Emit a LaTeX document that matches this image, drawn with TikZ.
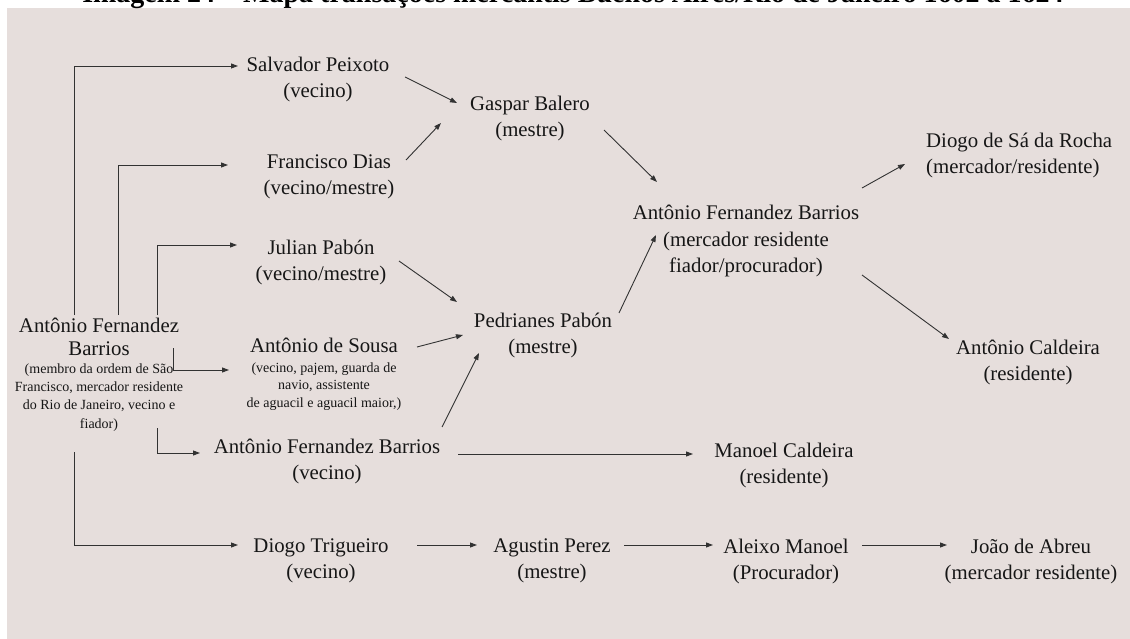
\documentclass[tikz,border=0pt]{standalone}
\usepackage{fontspec}
\setmainfont{Liberation Serif}
\usetikzlibrary{arrows.meta}
\definecolor{bg}{RGB}{230,222,220}
\definecolor{ink}{RGB}{22,22,22}
\definecolor{wire}{RGB}{50,50,50}
\newcommand\bigf{\fontsize{20.8}{26}\selectfont}
\newcommand\bigfl{\fontsize{20.8}{26.5}\selectfont}
\newcommand\smallf{\fontsize{14}{17.5}\selectfont}
\newcommand\smallfl{\fontsize{14}{18.3}\selectfont}
\begin{document}
\begin{tikzpicture}[x=1pt,y=-1pt,
  person/.style={text=ink, inner sep=0pt, align=center, font=\bigf},
  arr/.style={draw=wire, line width=0.9pt, -{Triangle[length=7pt,width=5pt]}}
]
\useasboundingbox (0,0) rectangle (1130,639);
\clip (0,0) rectangle (1130,639);
\fill[bg] (7,8) rectangle (1130,639);
\node[font=\bfseries\fontsize{28}{30}\selectfont, anchor=base, text=black, inner sep=0pt] (title) at (573,3) {Imagem 24 – Mapa transações mercantis Buenos Aires/Rio de Janeiro 1602 a 1624};

% nodes
\node[person, font=\smallfl, anchor=north] (afb1) at (99,318) {{\bigf Antônio Fernandez}\\[4.7pt]{\bigf Barrios}\\[-0.7pt](membro da ordem de São\\Francisco, mercador residente\\do Rio de Janeiro, vecino e\\fiador)};
\node[person] (sp) at (318,80) {Salvador Peixoto\\(vecino)};
\node[person] (fd) at (329,177) {Francisco Dias\\(vecino/mestre)};
\node[person] (jp) at (321,262) {Julian Pabón\\(vecino/mestre)};
\node[person, font=\smallf, anchor=north] (as) at (324,338) {{\bigf Antônio de Sousa}\\[2.2pt](vecino, pajem, guarda de\\navio, assistente\\de aguacil e aguacil maior,)};
\node[person] (afb2) at (327,461) {Antônio Fernandez Barrios\\(vecino)};
\node[person] (dt) at (321,561) {Diogo Trigueiro\\(vecino)};
\node[person] (gb) at (530,118) {Gaspar Balero\\(mestre)};
\node[person] (pp) at (543,335) {Pedrianes Pabón\\(mestre)};
\node[person, font=\bigfl] (afb3) at (746,241) {Antônio Fernandez Barrios\\(mercador residente\\fiador/procurador)};
\node[person, align=left, anchor=west] (dsr) at (926,155.5) {Diogo de Sá da Rocha\\(mercador/residente)};
\node[person] (ac) at (1028,362.5) {Antônio Caldeira\\(residente)};
\node[person] (mc) at (784,465.5) {Manoel Caldeira\\(residente)};
\node[person] (ap) at (552,561) {Agustin Perez\\(mestre)};
\node[person] (am) at (786,561) {Aleixo Manoel\\(Procurador)};
\node[person] (ja) at (1031,561) {João de Abreu\\(mercador residente)};

% connectors from the main node
\draw[arr] ([shift={(-25,-3)}]afb1.north) |- ([shift={(-80,-14)}]sp.center);
\draw[arr] ([shift={(19,-3)}]afb1.north) |- ([shift={(-101,-12)}]fd.center);
\draw[arr] ([shift={(58,-3)}]afb1.north) |- ([shift={(-84,-17)}]jp.center);
\draw[arr] ([shift={(74,30)}]afb1.north) |- ([shift={(-95,32)}]as.north);
\draw[arr] ([shift={(58,110)}]afb1.north) |- ([shift={(-127,-8)}]afb2.center);
\draw[arr] ([shift={(-25,134)}]afb1.north) |- ([shift={(-83,-16)}]dt.center);

% other connectors
\draw[arr] ([shift={(87,-3)}]sp.center) -- ([shift={(-73,-15)}]gb.center);
\draw[arr] ([shift={(77,-17)}]fd.center) -- ([shift={(-89,5)}]gb.center);
\draw[arr] ([shift={(74,12)}]gb.center) -- ([shift={(-89,-59)}]afb3.center);
\draw[arr] ([shift={(78,-1)}]jp.center) -- ([shift={(-86,-33)}]pp.center);
\draw[arr] ([shift={(93,9)}]as.north) -- ([shift={(-80,0)}]pp.center);
\draw[arr] ([shift={(115,-34)}]afb2.center) -- ([shift={(-64,18)}]pp.center);
\draw[arr] ([shift={(76,-22)}]pp.center) -- ([shift={(-90,-6)}]afb3.center);
\draw[arr] ([shift={(116,-53)}]afb3.center) -- ([shift={(-21,8.5)}]dsr.west);
\draw[arr] ([shift={(116,34)}]afb3.center) -- ([shift={(-79,-23.5)}]ac.center);
\draw[arr] ([shift={(131,-7)}]afb2.center) -- ([shift={(-91,-11.5)}]mc.center);
\draw[arr] ([shift={(96,-16)}]dt.center) -- ([shift={(-75,-16)}]ap.center);
\draw[arr] ([shift={(72,-16)}]ap.center) -- ([shift={(-73,-16)}]am.center);
\draw[arr] ([shift={(76,-16)}]am.center) -- ([shift={(-84,-16)}]ja.center);
\end{tikzpicture}
\end{document}
